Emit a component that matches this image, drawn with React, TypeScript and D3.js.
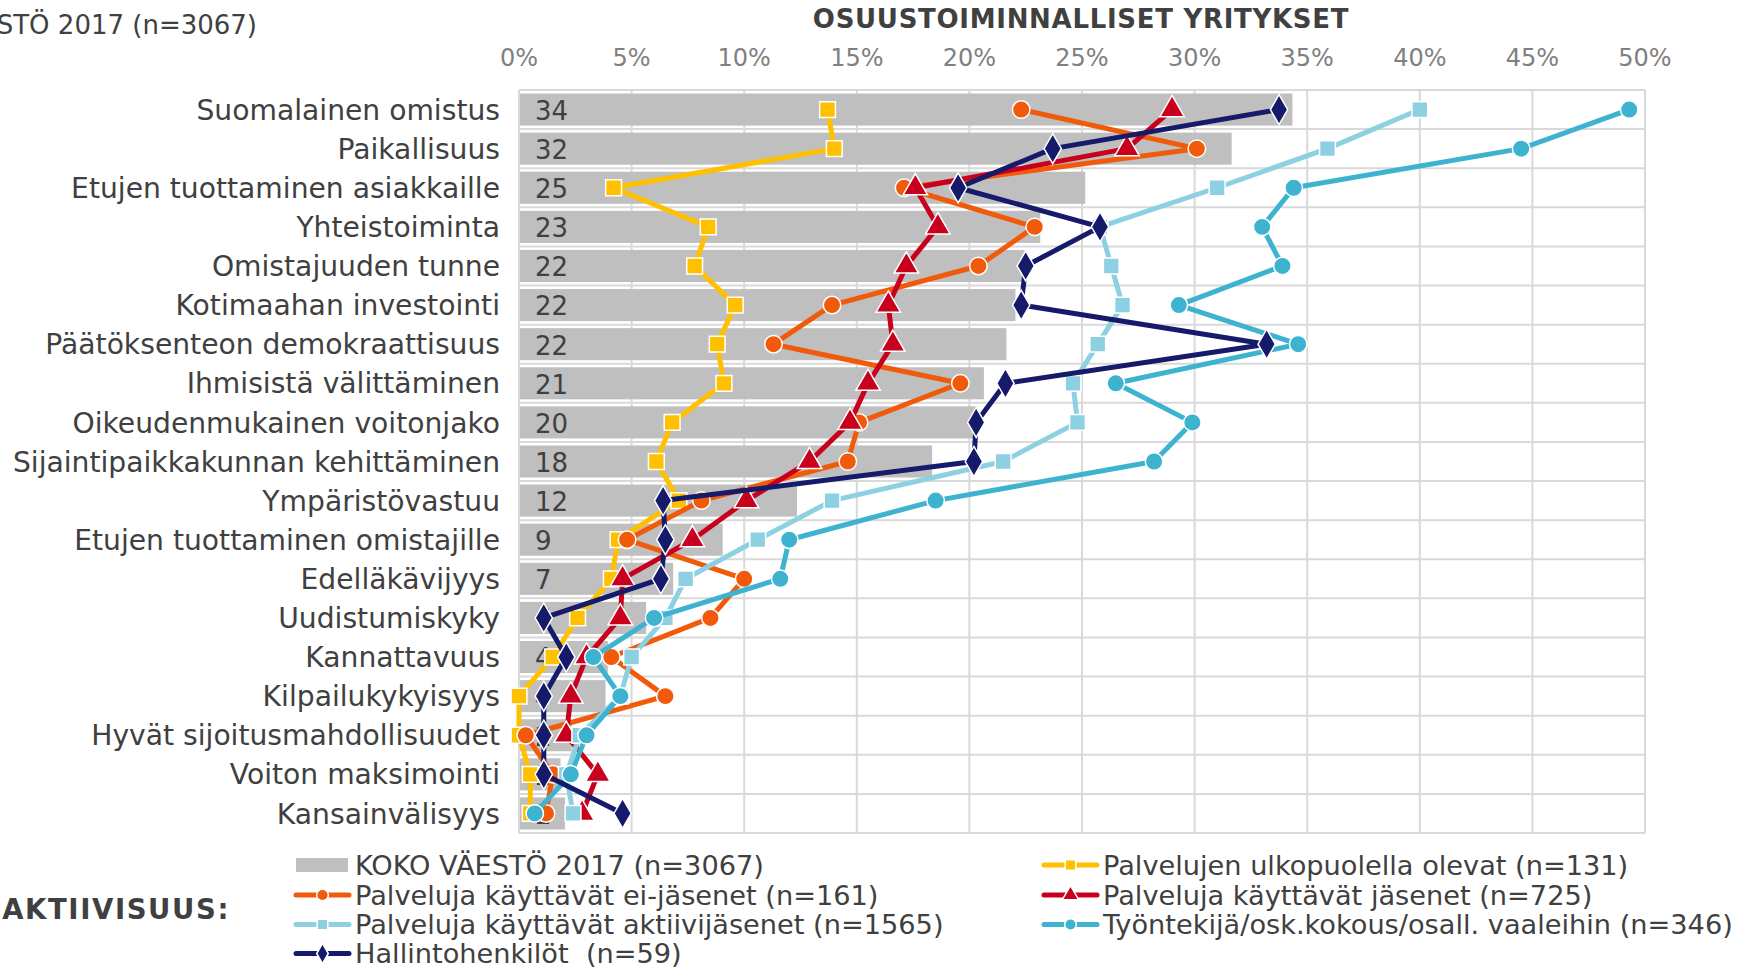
import React from "react";
import * as d3 from "d3";

const categories = [
  "Suomalainen omistus",
  "Paikallisuus",
  "Etujen tuottaminen asiakkaille",
  "Yhteistoiminta",
  "Omistajuuden tunne",
  "Kotimaahan investointi",
  "Päätöksenteon demokraattisuus",
  "Ihmisistä välittäminen",
  "Oikeudenmukainen voitonjako",
  "Sijaintipaikkakunnan kehittäminen",
  "Ympäristövastuu",
  "Etujen tuottaminen omistajille",
  "Edelläkävijyys",
  "Uudistumiskyky",
  "Kannattavuus",
  "Kilpailukykyisyys",
  "Hyvät sijoitusmahdollisuudet",
  "Voiton maksimointi",
  "Kansainvälisyys",
];

const kokoVaesto = [34.3, 31.6, 25.1, 23.1, 22.4, 22.0, 21.6, 20.6, 20.3, 18.3, 12.3, 9.0, 6.8, 5.6, 3.9, 3.8, 2.3, 1.8, 2.0];
const ulkopuolella = [13.7, 14.0, 4.2, 8.4, 7.8, 9.6, 8.8, 9.1, 6.8, 6.1, 7.1, 4.4, 4.1, 2.6, 1.5, 0.0, 0.0, 0.5, 0.5];
const eiJasenet = [22.3, 30.1, 17.1, 22.9, 20.4, 13.9, 11.3, 19.6, 15.1, 14.6, 8.1, 4.8, 10.0, 8.5, 4.1, 6.5, 0.3, 1.5, 1.2];
const jasenet = [29.0, 27.0, 17.6, 18.6, 17.2, 16.4, 16.6, 15.5, 14.7, 12.9, 10.1, 7.7, 4.6, 4.5, 3.0, 2.3, 2.1, 3.5, 2.8];
const aktiivit = [40.0, 35.9, 31.0, 25.8, 26.3, 26.8, 25.7, 24.6, 24.8, 21.5, 13.9, 10.6, 7.4, 6.5, 5.0, 4.5, 2.7, 2.1, 2.4];
const tyontekija = [49.3, 44.5, 34.4, 33.0, 33.9, 29.3, 34.6, 26.5, 29.9, 28.2, 18.5, 12.0, 11.6, 6.0, 3.3, 4.5, 3.0, 2.3, 0.7];
const hallinto = [33.75, 23.7, 19.5, 25.8, 22.5, 22.3, 33.2, 21.6, 20.3, 20.2, 6.4, 6.5, 6.3, 1.1, 2.1, 1.1, 1.1, 1.1, 4.6];

const xTicks = [0, 5, 10, 15, 20, 25, 30, 35, 40, 45, 50];

const series = [
  { name: "Palvelujen ulkopuolella olevat (n=131)", values: ulkopuolella, color: "#ffc000", symbol: d3.symbolSquare, size: 250, col: 1, row: 0 },
  { name: "Palveluja käyttävät ei-jäsenet (n=161)", values: eiJasenet, color: "#f05a0a", symbol: d3.symbolCircle, size: 240, col: 0, row: 1 },
  { name: "Palveluja käyttävät jäsenet (n=725)", values: jasenet, color: "#c8001e", symbol: d3.symbolTriangle, size: 260, col: 1, row: 1 },
  { name: "Palveluja käyttävät aktiivijäsenet (n=1565)", values: aktiivit, color: "#8dd0e1", symbol: d3.symbolSquare, size: 250, col: 0, row: 2 },
  { name: "Työntekijä/osk.kokous/osall. vaaleihin (n=346)", values: tyontekija, color: "#3db3d0", symbol: d3.symbolCircle, size: 240, col: 1, row: 2 },
  { name: "Hallintohenkilöt  (n=59)", values: hallinto, color: "#161a6a", symbol: d3.symbolDiamond, size: 260, col: 0, row: 3 },
];

const W = 1739;
const H = 968;
const plot = { left: 519, right: 1645, top: 90, bottom: 833 };
const FONT = "DejaVu Sans, Verdana, sans-serif";
const TEXT = "#404040";
const GRID = "#d9d9d9";

export default function App() {
  const x = d3.scaleLinear().domain([0, 50]).range([plot.left, plot.right]);
  const y = d3.scaleBand<string>().domain(categories).range([plot.top, plot.bottom]).paddingInner(0.18).paddingOuter(0.09);
  const step = (plot.bottom - plot.top) / categories.length;
  const yc = (i: number) => plot.top + step * (i + 0.5);
  const line = d3
    .line<number>()
    .x((d) => x(d))
    .y((_, i) => yc(i));

  const legendCols = [294, 1042];
  const legendRows = [865, 895, 924.5, 953.5];

  return (
    <svg width={W} height={H} style={{ position: "absolute", left: 0, top: 0, background: "#fff" }} fontFamily={FONT}>
      <rect x={0} y={0} width={W} height={H} fill="#fff" />
      {/* titles */}
      <text x={1081} y={28} textAnchor="middle" fontSize={26} fontWeight="bold" fill={TEXT} letterSpacing={0.7}>
        OSUUSTOIMINNALLISET YRITYKSET
      </text>
      <text x={257} y={34} textAnchor="end" fontSize={26} fill={TEXT}>
        KOKO VÄESTÖ 2017 (n=3067)
      </text>
      {/* x tick labels */}
      {xTicks.map((t) => (
        <text key={"t" + t} x={x(t)} y={66} textAnchor="middle" fontSize={24} fill="#808080">
          {t + "%"}
        </text>
      ))}
      {/* horizontal grid at band boundaries */}
      {d3.range(categories.length + 1).map((i) => (
        <line key={"h" + i} x1={plot.left} x2={plot.right} y1={plot.top + step * i} y2={plot.top + step * i} stroke={GRID} strokeWidth={2} />
      ))}
      {/* vertical grid */}
      {xTicks.map((t) => (
        <line key={"v" + t} x1={x(t)} x2={x(t)} y1={plot.top} y2={plot.bottom} stroke={GRID} strokeWidth={2} />
      ))}
      {/* bars */}
      {categories.map((c, i) => (
        <rect key={"b" + i} x={x(0) + 1} y={y(c)} width={x(kokoVaesto[i]) - x(0)} height={y.bandwidth()} fill="#bfbfbf" />
      ))}
      {/* category labels */}
      {categories.map((c, i) => (
        <text key={"c" + i} x={500} y={yc(i)} dy="0.36em" textAnchor="end" fontSize={28.2} fill={TEXT}>
          {c}
        </text>
      ))}
      {/* bar value labels */}
      {categories.map((c, i) => (
        <text key={"l" + i} x={x(0) + 16} y={yc(i)} dy="0.4em" textAnchor="start" fontSize={26} fill={TEXT}>
          {d3.format(".0f")(kokoVaesto[i])}
        </text>
      ))}
      {/* series */}
      {series.map((s, si) => (
        <g key={"s" + si}>
          <path d={line(s.values) || ""} fill="none" stroke={s.color} strokeWidth={5} strokeLinejoin="round" />
          {s.values.map((v, i) => (
            <path
              key={i}
              d={d3.symbol().type(s.symbol).size(s.size)() || ""}
              transform={`translate(${x(v)},${yc(i)})`}
              fill={s.color}
              stroke="#fff"
              strokeWidth={1.5}
            />
          ))}
        </g>
      ))}
      {/* legend */}
      <text x={230} y={919} textAnchor="end" fontSize={27.5} fontWeight="bold" fill={TEXT} letterSpacing={1.6}>
        AKTIIVISUUS:
      </text>
      <g>
        <rect x={legendCols[0] + 2} y={legendRows[0] - 7} width={52} height={14} fill="#bfbfbf" />
        <text x={legendCols[0] + 61} y={legendRows[0]} dy="0.36em" fontSize={27.2} fill={TEXT}>
          KOKO VÄESTÖ 2017 (n=3067)
        </text>
      </g>
      {series.map((s, si) => {
        const lx = legendCols[s.col];
        const ly = legendRows[s.row];
        return (
          <g key={"lg" + si}>
            <line x1={lx + 2} x2={lx + 55} y1={ly} y2={ly} stroke={s.color} strokeWidth={5} strokeLinecap="round" />
            <path d={d3.symbol().type(s.symbol).size(s.size * 0.45)() || ""} transform={`translate(${lx + 28.5},${ly})`} fill={s.color} stroke="#fff" strokeWidth={1.5} />
            <text x={lx + 61} y={ly} dy="0.36em" fontSize={27.2} fill={TEXT} style={{ whiteSpace: "pre" }}>
              {s.name}
            </text>
          </g>
        );
      })}
    </svg>
  );
}
